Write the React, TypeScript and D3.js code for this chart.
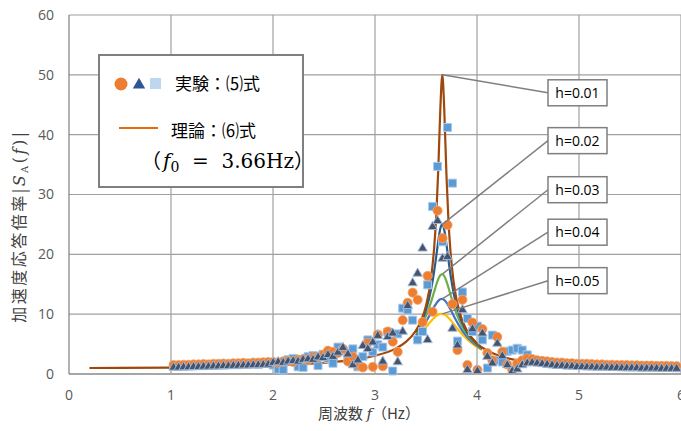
import React, { useRef, useEffect } from 'react';
import * as d3 from 'd3';

// measured frequency grid (df = 1/20.48 Hz), k = 21 .. 122
const df = 1 / 20.48;
const freqs = d3.range(21, 123).map(k => k * df);

const circleVals = [
  1.5, 1.5, 1.55, 1.55, 1.6, 1.6, 1.65, 1.6, 1.7, 1.7, 1.75, 1.7, 1.8, 1.8, 1.85, 1.8, 1.9, 1.9, 1.95, 2.0,
  2.0, 1.9, 2.1, 2.2, 2.0, 2.4, 2.5, 2.3, 2.8, 2.7, 3.2, 3.9,
  3.7, 3.5, 4.2, 2.1, 2.9, 1.5, 1.1, 5.2, 1.2, 6.6, 1.3, 7.1, 5.4, 3.7,
  9.0, 11.9, 13.6, 12.4, 8.7, 16.4, 10.4, 27.3, 22.7, 24.9, 11.7, 4.0, 12.4, 1.5, 8.6, 0.7, 7.5, 3.5, 2.3, 6.2,
  3.7, 1.6, 0.7, 1.8, 2.3, 2.6, 2.5, 2.3, 2.2, 2.1, 2.0, 1.9, 1.9, 1.8, 1.8, 1.7,
  1.7, 1.7, 1.65, 1.6, 1.6, 1.55, 1.55, 1.5, 1.5, 1.5, 1.45, 1.45, 1.4, 1.4, 1.4, 1.35, 1.35, 1.35, 1.3, 1.3,
];
const triVals = [
  1.1, 1.1, 1.15, 1.15, 1.2, 1.2, 1.25, 1.25, 1.3, 1.3, 1.35, 1.35, 1.4, 1.4, 1.45, 1.45, 1.5, 1.5, 1.55, 1.6,
  1.9, 2.0, 1.9, 2.1, 2.2, 2.1, 2.4, 2.5, 2.4, 2.8, 2.7, 3.2,
  2.9, 3.6, 4.4, 3.3, 1.5, 2.3, 4.7, 4.2, 5.3, 6.4, 2.1, 6.2, 6.8, 2.0,
  7.1, 11.4, 15.2, 16.8, 21.0, 5.7, 24.6, 25.6, 19.3, 19.6, 7.6, 4.8, 10.7, 0.7, 7.5, 0.5, 6.8, 2.9, 1.8, 5.1,
  3.0, 1.5, 0.5, 0.8, 1.5, 1.8, 1.9, 1.8, 1.7, 1.6, 1.5, 1.4, 1.4, 1.3, 1.3, 1.2,
  1.2, 1.15, 1.15, 1.1, 1.1, 1.1, 1.05, 1.05, 1.0, 1.0, 1.0, 1.0, 0.95, 0.95, 0.95, 0.95, 0.9, 0.9, 0.9, 0.9,
];
const squareVals = [
  1.3, 1.25, 1.3, 1.35, 1.35, 1.4, 1.4, 1.45, 1.45, 1.5, 1.5, 1.55, 1.6, 1.55, 1.6, 1.65, 1.7, 1.6, 1.8, 1.9,
  1.5, 0.8, 0.7, 2.4, 2.6, 1.2, 1.1, 2.9, 3.1, 1.4, 3.3, 2.6,
  1.8, 4.5, 4.0, 2.9, 4.2, 1.2, 2.9, 5.7, 3.7, 4.9, 4.5, 7.0, 0.5, 6.7,
  11.0, 10.7, 9.0, 5.7, 7.1, 14.9, 28.0, 34.7, 22.1, 41.2, 31.9, 5.5, 13.7, 9.3, 7.1, 8.0, 5.7, 1.0, 6.5, 2.3,
  2.0, 3.8, 4.0, 4.3, 4.0, 3.2, 2.3, 2.0, 1.9, 1.8, 1.7, 1.6, 1.6, 1.5, 1.5, 1.5,
  1.4, 1.4, 1.35, 1.35, 1.3, 1.3, 1.3, 1.25, 1.25, 1.2, 1.2, 1.2, 1.15, 1.15, 1.15, 1.1, 1.1, 1.1, 1.1, 1.05,
];

// theory, h = 0.01 (full range)
const th1F = [0.2, 0.5, 1.0, 1.5, 2.0, 2.5, 2.8, 3.0, 3.2, 3.3, 3.4, 3.45, 3.5, 3.55, 3.58, 3.6, 3.62, 3.64, 3.66,
  3.68, 3.7, 3.72, 3.74, 3.77, 3.8, 3.85, 3.9, 4.0, 4.1, 4.2, 4.4, 4.6, 5.0, 5.5, 6.0];
const th1V = [1.0, 1.02, 1.08, 1.2, 1.43, 1.88, 2.41, 3.05, 4.24, 5.32, 7.23, 8.84, 11.4, 16.05, 21.1, 26.3, 34.0, 44.1, 50.0,
  43.7, 33.5, 25.7, 20.5, 15.5, 12.4, 9.21, 7.3, 5.11, 3.92, 3.16, 2.25, 1.73, 1.15, 0.8, 0.59];

// theory, h = 0.02 .. 0.05 (around resonance)
const thF = [3.4, 3.45, 3.5, 3.55, 3.58, 3.6, 3.62, 3.64, 3.66, 3.68, 3.7, 3.72, 3.74, 3.77, 3.8, 3.85, 3.9, 3.95, 4.0, 4.05];
const th2V = [7.05, 8.5, 10.69, 14.14, 17.17, 19.61, 22.17, 24.27, 25.0, 24.0, 21.75, 19.09, 16.63, 13.6, 11.33, 8.74, 7.05, 5.88, 5.02, 4.37];
const th3V = [6.77, 8.01, 9.73, 12.06, 13.74, 14.87, 15.85, 16.51, 16.7, 16.34, 15.54, 14.45, 13.27, 11.55, 10.05, 8.1, 6.69, 5.66, 4.88, 4.28];
const th4V = [6.43, 7.45, 8.74, 10.27, 11.22, 11.78, 12.22, 12.49, 12.54, 12.36, 11.98, 11.43, 10.8, 9.79, 8.81, 7.39, 6.28, 5.4, 4.71, 4.16];
const th5V = [6.07, 6.88, 7.83, 8.84, 9.39, 9.7, 9.92, 10.04, 10.05, 9.94, 9.72, 9.41, 9.03, 8.4, 7.75, 6.72, 5.84, 5.11, 4.51, 4.02];

const hLabels = ['h=0.01', 'h=0.02', 'h=0.03', 'h=0.04', 'h=0.05'];
const xTicks = [0, 1, 2, 3, 4, 5, 6];
const yTicks = [0, 10, 20, 30, 40, 50, 60];

const App: React.FC = () => {
  const svgRef = useRef<SVGSVGElement | null>(null);
  const width = 681;
  const height = 431;

  useEffect(() => {
    const svg = d3.select(svgRef.current);
    svg.selectAll('*').remove();

    const x = d3.scaleLinear().domain([0, 6]).range([69, 681]);
    const y = d3.scaleLinear().domain([0, 60]).range([374, 15]);
    const font = "'Open Sans', 'DejaVu Sans', sans-serif";
    const jp = "'Noto Sans CJK JP', sans-serif";
    const serif = "'DejaVu Serif', serif";

    svg.append('rect').attr('width', width).attr('height', height).attr('fill', '#fff');

    // grid
    svg.append('g').selectAll('line.h').data(yTicks.filter(t => t > 0)).enter().append('line')
      .attr('x1', x(0)).attr('x2', x(6)).attr('y1', d => y(d)).attr('y2', d => y(d))
      .attr('stroke', '#a0a0a0').attr('stroke-width', 1.2);
    svg.append('g').selectAll('line.v').data(xTicks.filter(t => t > 0)).enter().append('line')
      .attr('x1', d => x(d)).attr('x2', d => x(d)).attr('y1', y(60)).attr('y2', y(0))
      .attr('stroke', '#a0a0a0').attr('stroke-width', 1.2);
    // axes
    svg.append('line').attr('x1', x(0)).attr('x2', x(6)).attr('y1', y(0)).attr('y2', y(0))
      .attr('stroke', '#a6a6a6').attr('stroke-width', 2);
    svg.append('line').attr('x1', x(0)).attr('x2', x(0)).attr('y1', y(60)).attr('y2', y(0))
      .attr('stroke', '#7f7f7f').attr('stroke-width', 1.2);

    svg.append('g').selectAll('text').data(yTicks).enter().append('text')
      .attr('x', 54).attr('y', d => y(d)).attr('dy', '0.35em').attr('text-anchor', 'end')
      .attr('font-family', font).attr('font-size', 14).attr('fill', '#595959').text(d => d);
    svg.append('g').selectAll('text').data(xTicks).enter().append('text')
      .attr('x', d => x(d)).attr('y', 400).attr('text-anchor', 'middle')
      .attr('font-family', font).attr('font-size', 14).attr('fill', '#595959').text(d => d);

    // axis titles
    const xt = svg.append('text').attr('x', 369).attr('y', 419).attr('text-anchor', 'middle')
      .attr('font-family', jp).attr('font-size', 15).attr('fill', '#404040');
    xt.append('tspan').text('周波数\u00a0');
    xt.append('tspan').attr('font-family', serif).attr('font-style', 'italic').text('f');
    xt.append('tspan').text('（Hz）');

    const yt = svg.append('text').attr('transform', 'translate(25,226) rotate(-90)').attr('text-anchor', 'middle')
      .attr('font-family', jp).attr('font-size', 16).attr('fill', '#404040').attr('letter-spacing', 2.5);
    yt.append('tspan').text('加速度応答倍率|');
    yt.append('tspan').attr('font-family', serif).attr('font-style', 'italic').text('S');
    yt.append('tspan').attr('font-family', serif).attr('font-size', 10).attr('dy', 3).text('A');
    yt.append('tspan').attr('font-family', serif).attr('dy', -3).text('(');
    yt.append('tspan').attr('font-family', serif).attr('font-style', 'italic').text('f');
    yt.append('tspan').attr('font-family', serif).text(')|');

    // theory lines
    const line = d3.line<[number, number]>().x(d => x(d[0])).y(d => y(d[1])).curve(d3.curveMonotoneX);
    const curves = [
      { f: thF, v: th5V, color: '#ffc000' },
      { f: thF, v: th4V, color: '#4472c4' },
      { f: thF, v: th3V, color: '#70ad47' },
      { f: thF, v: th2V, color: '#255e91' },
      { f: th1F, v: th1V, color: '#9e480e' },
    ];
    curves.forEach(c => {
      svg.append('path').attr('d', line(c.f.map((f, i) => [f, c.v[i]] as [number, number])))
        .attr('fill', 'none').attr('stroke', c.color).attr('stroke-width', 2.2);
    });

    // markers
    const sq = d3.symbol().type(d3.symbolSquare).size(64);
    const tri = d3.symbol().type(d3.symbolTriangle).size(38);
    svg.append('g').selectAll('path').data(squareVals).enter().append('path')
      .attr('d', sq).attr('transform', (d, i) => `translate(${x(freqs[i])},${y(d)})`)
      .attr('fill', '#5b9bd5').attr('stroke', '#a9c8ea').attr('stroke-width', 1);
    svg.append('g').selectAll('circle').data(circleVals).enter().append('circle')
      .attr('cx', (d, i) => x(freqs[i])).attr('cy', d => y(d)).attr('r', 4.6)
      .attr('fill', '#ed7d31').attr('stroke', '#f4a46c').attr('stroke-width', 0.8);
    svg.append('g').selectAll('path').data(triVals).enter().append('path')
      .attr('d', tri).attr('transform', (d, i) => `translate(${x(freqs[i])},${y(d)})`)
      .attr('fill', '#44546a').attr('stroke', '#9fb4d6').attr('stroke-width', 1);

    // h labels with leader lines
    const peaks = [th1V, th2V, th3V, th4V, th5V].map(v => d3.max(v) as number);
    const boxY = [47.0, 39.0, 30.8, 23.7, 15.6];
    const boxX = 548;
    hLabels.forEach((lab, i) => {
      const cy = y(boxY[i]);
      svg.append('line').attr('x1', x(3.66)).attr('y1', y(peaks[i])).attr('x2', boxX).attr('y2', cy)
        .attr('stroke', '#7f7f7f').attr('stroke-width', 1.5);
      svg.append('rect').attr('x', boxX).attr('y', cy - 13).attr('width', 59).attr('height', 26)
        .attr('fill', '#fff').attr('stroke', '#7f7f7f').attr('stroke-width', 1.5);
      svg.append('text').attr('x', boxX + 29.5).attr('y', cy).attr('dy', '0.36em').attr('text-anchor', 'middle')
        .attr('font-family', font).attr('font-size', 14).attr('fill', '#000').text(lab);
    });

    // legend box
    const lg = svg.append('g');
    lg.append('rect').attr('x', 99).attr('y', 55).attr('width', 204).attr('height', 132)
      .attr('fill', '#fff').attr('stroke', '#7f7f7f').attr('stroke-width', 2);
    lg.append('circle').attr('cx', 121).attr('cy', 84).attr('r', 6.5).attr('fill', '#ed7d31');
    lg.append('path').attr('d', d3.symbol().type(d3.symbolTriangle).size(66)()).attr('transform', 'translate(139,85)')
      .attr('fill', '#2f5597');
    lg.append('rect').attr('x', 150).attr('y', 78).attr('width', 11).attr('height', 11).attr('fill', '#bdd7ee');
    lg.append('text').attr('x', 175).attr('y', 90).attr('font-family', jp).attr('font-size', 17).attr('fill', '#000')
      .text('実験：⑸式');
    lg.append('line').attr('x1', 119).attr('x2', 158).attr('y1', 128).attr('y2', 128)
      .attr('stroke', '#e46c0a').attr('stroke-width', 2);
    lg.append('text').attr('x', 171).attr('y', 137).attr('font-family', jp).attr('font-size', 17).attr('fill', '#000')
      .text('理論：⑹式');
    const ft = lg.append('text').attr('x', 141).attr('y', 168).attr('font-family', serif)
      .attr('font-size', 20).attr('fill', '#000');
    ft.append('tspan').attr('font-family', jp).text('（');
    ft.append('tspan').attr('font-style', 'italic').attr('dx', 2).text('f');
    ft.append('tspan').attr('font-size', 14).attr('dy', 4).text('0');
    ft.append('tspan').attr('dy', -4).text('\u00a0\u00a0=\u00a0\u00a03.66Hz');
    ft.append('tspan').attr('font-family', jp).text('）');
  }, []);

  return (
    <svg ref={svgRef} width={width} height={height}
      style={{ position: 'absolute', left: 0, top: 0, display: 'block' }}></svg>
  );
};

export default App;
